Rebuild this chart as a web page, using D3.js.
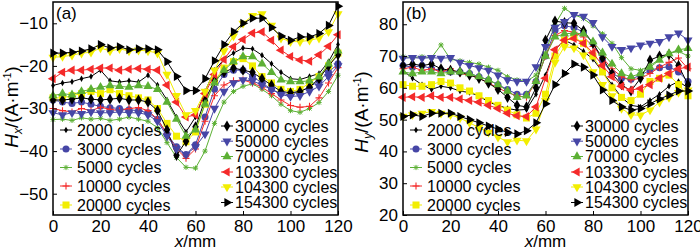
<!DOCTYPE html>
<html>
<head>
<meta charset="utf-8">
<script src="https://cdn.jsdelivr.net/npm/d3@7"></script>
<style>
  body { margin: 0; background: #fff; }
  svg { display: block; font-family: Arial, "Liberation Sans", sans-serif; }
</style>
</head>
<body>
<div id="chart"></div>
<script>
// Positions along the specimen (mm)
const xmm = [0, 4, 8, 12, 16, 20, 24, 28, 32, 36, 40, 44, 48, 52, 56, 60, 64, 68, 72, 76, 80, 84, 88, 92, 96, 100, 104, 108, 112, 116, 120];

const cycles = ["2000", "3000", "5000", "10000", "20000", "30000", "50000", "70000", "103300", "104300", "154300"];

// (a) Hx, A/m
const aH2000   = [-24.6,-24,-23.7,-23,-22.5,-21,-23.5,-23.8,-23.5,-23.8,-22.2,-24.5,-28,-32,-35.5,-32,-26,-21,-18.5,-17,-15.8,-16,-17.5,-19.5,-21.5,-23,-23.2,-22.5,-21.8,-19,-15];
const aH3000   = [-28,-28.5,-28.8,-28.5,-29,-29.5,-29.8,-30,-30.3,-30.5,-31,-32.5,-36,-39,-40.8,-38.5,-32,-25.5,-22,-21,-21,-22.5,-24,-25.5,-26.5,-26.7,-26,-25,-23.5,-21.5,-19.5];
const aH5000   = [-32.6,-32.5,-32.8,-32.2,-32.5,-32.3,-32.8,-32.5,-32,-32.5,-33,-34.5,-38,-41.5,-43.8,-44,-40,-33.5,-28.5,-26,-24.8,-24.2,-25.5,-27,-29,-30.5,-30.9,-30,-28.6,-26,-22.2];
const aH10000  = [-30,-30.5,-30.8,-30,-30.5,-29.7,-30.2,-30.5,-30,-29.8,-30.5,-32.5,-36,-39.5,-41.7,-39.5,-33,-27,-24.5,-23.5,-23.3,-24,-25,-26.5,-28,-29.3,-29.7,-29.5,-27.5,-24,-20.4];
const aH20000  = [-27.5,-27.5,-27,-26.5,-26,-26.5,-25.6,-26.5,-27,-27.5,-28,-30,-33.5,-36.5,-37.8,-35.5,-29,-23.5,-20.5,-19,-18.3,-20,-22.5,-24,-25.5,-26,-25.5,-24,-22.5,-20,-17];
const aH30000  = [-28,-28,-27.8,-27.5,-27.8,-28,-27.8,-27.6,-28,-28,-28.5,-30.5,-35,-41,-37.7,-34.3,-28,-23.5,-21.5,-20.5,-21,-21.5,-23,-24.5,-26,-26.3,-26,-25,-23,-20,-17.4];
const aH50000  = [-31,-31.5,-31,-31.2,-30.8,-31,-31,-30.8,-31,-31,-31.5,-33,-36.5,-39.5,-40.8,-39,-36,-30,-26,-24,-23.3,-23.5,-24.5,-25.5,-26.7,-27.2,-27,-26,-24.8,-22.5,-20];
const aH70000  = [-27,-26.5,-26.8,-26,-25.5,-25,-24.6,-24.8,-25,-24.6,-24.8,-25.5,-28.5,-32.5,-36.5,-35,-29,-24,-21,-19,-17.8,-17.8,-19.5,-21.5,-23.3,-23.7,-23.7,-23.5,-22.6,-19.5,-16.5];
const aH103300 = [-23,-21.5,-21,-21,-20.8,-20.5,-20.5,-21,-20.8,-20.6,-20.8,-21,-24.5,-28.5,-32,-31.5,-26.5,-22,-18.5,-15.5,-13.8,-12.3,-12,-14,-16.3,-17.8,-18.6,-18.9,-17.4,-15.4,-12.7];
const aH104300 = [-18,-17.8,-17.5,-17,-16.8,-15.8,-16.5,-16,-16.5,-16.3,-16.5,-17,-22,-27,-31.5,-30.5,-26,-21,-16.5,-13,-10,-8.2,-7.8,-10.5,-13.5,-14.3,-14.3,-14,-13.5,-12,-7.8];
const aH154300 = [-17,-17,-16.8,-16.5,-16,-15,-15.8,-15.5,-16.2,-16,-16,-16.2,-19,-22.5,-25.8,-25.8,-23,-18.8,-15,-12,-10,-8.8,-8.8,-11,-13,-14,-13.2,-13.2,-12.4,-10.5,-6];

// (b) Hy, A/m
const bH2000   = [65.5,63,61,59.5,60.5,60,59,58.5,57.5,55.5,54.5,53.5,53,53.2,58,64,72,75,73.5,71.5,69,65,61,57,54.5,54,56,58,60.5,62,60];
const bH3000   = [67,66.5,67,66,65.5,65,65,64.5,63.5,62.5,61,59.5,58,58,62,70,78,79.5,79,77.5,74,68.5,64.5,63,62.7,64,65.5,66.3,66.6,65,62];
const bH5000   = [69.8,69.5,69.8,69.5,73.5,69,68.5,68,67.5,66.5,65.5,63.5,62.5,62,64,71,80,85,83,81.8,79.5,77,74,69.5,66,65.5,67,69,70.8,71.5,70];
const bH10000  = [66,66.5,65.5,66,65,66,64.5,64,63,61.5,60,58.5,57.5,57,62,70,76.5,78,77.5,76,73,69.5,66,63.5,62.5,63,64.5,66.5,68,69.4,66];
const bH20000  = [61,60.5,60.5,61,62,61.5,60,59,57.5,56,54.5,53,51.5,50.5,52,58,70,75,76,74,70,65,60,57,56,58,62,63,64,61,57.5];
const bH30000  = [67,67.5,67,67.5,66,65.5,65,64,63,61.5,59.5,57,54.5,54,60,75,81,80.5,80.3,78,74,69.3,64.5,61,59,63,68.7,70,70.5,67,61];
const bH50000  = [69.3,69.5,69.3,69.5,69.3,69.5,68,67,66.3,65.5,64,62.5,62,62,66.6,73,79,80.8,83,82.5,80.5,76,73,72,72.5,73.4,74,74.5,76,77.2,75];
const bH70000  = [65,64.5,65,65,64.5,65,65,64.5,63.5,62.5,61,59,57,57.5,62,70,76,77,77.2,77,74.5,71,67.5,64.5,63.5,64.5,66.5,68.7,70.8,72,72.4];
const bH103300 = [57,57.2,57,57.5,57,57,56.5,56,55.5,54.5,53.5,52,51.2,51,54,63,72,75,75.5,74,71,67,63.5,60.5,59.3,59.8,61,63,64.5,66,66.5];
const bH104300 = [51,51.5,52,52.5,52,51.5,50.5,49,47.5,46,44.5,43,43.5,43.3,47,56,68,73,72.5,70.3,65,61,57.5,53.5,51.5,51.4,53,55.5,57,58.5,59.3];
const bH154300 = [51,51.5,51,52,52,52,51,50,49,48,47,46,45.5,46.5,49,55,61,64.5,67.5,66.5,64,59.3,56,54,53,53.5,55,56.5,57.7,59,59];

const aSeries = [aH2000, aH3000, aH5000, aH10000, aH20000, aH30000, aH50000, aH70000, aH103300, aH104300, aH154300];
const bSeries = [bH2000, bH3000, bH5000, bH10000, bH20000, bH30000, bH50000, bH70000, bH103300, bH104300, bH154300];

const xTicks = [0, 20, 40, 60, 80, 100, 120];
const aTicks = [-50, -40, -30, -20, -10];
const bTicks = [20, 30, 40, 50, 60, 70, 80];

// marker style per series, same order as cycles
const black = "#000", blue = "#4646a6", green = "#5cb034", red = "#f42a2a", yellow = "#f2ee00";
const styles = [
  { color: black,  shape: "smalldiamond" },
  { color: blue,   shape: "circle" },
  { color: green,  shape: "star" },
  { color: red,    shape: "plus" },
  { color: yellow, shape: "square" },
  { color: black,  shape: "diamond" },
  { color: blue,   shape: "down" },
  { color: green,  shape: "up" },
  { color: red,    shape: "left" },
  { color: yellow, shape: "down" },
  { color: black,  shape: "right" }
];

const W = 700, H = 248;
const svg = d3.select("#chart").append("svg")
  .attr("width", W).attr("height", H);
svg.append("rect").attr("width", W).attr("height", H).attr("fill", "#fff");

function marker(sel, st, x, y) {
  const tri = d3.symbol().type(d3.symbolTriangle).size(36)();
  const g = sel.append("g").attr("transform", `translate(${x},${y})`);
  switch (st.shape) {
    case "circle":
      g.append("circle").attr("r", 3.5).attr("fill", st.color); break;
    case "square":
      g.append("rect").attr("x", -3.5).attr("y", -3.5).attr("width", 7).attr("height", 7).attr("fill", st.color); break;
    case "diamond":
      g.append("path").attr("d", d3.symbol().type(d3.symbolDiamond).size(36)()).attr("fill", st.color); break;
    case "smalldiamond":
      g.append("path").attr("d", d3.symbol().type(d3.symbolDiamond).size(12)()).attr("fill", st.color); break;
    case "plus":
      g.append("path").attr("d", "M-3.5,0H3.5M0,-3.5V3.5").attr("stroke", st.color).attr("stroke-width", 1.1); break;
    case "star":
      g.append("path").attr("d", "M-2.6,0H2.6M0,-2.6V2.6M-2,-2L2,2M-2,2L2,-2").attr("stroke", st.color).attr("stroke-width", 1); break;
    case "up":
      g.append("path").attr("d", tri).attr("fill", st.color); break;
    case "down":
      g.append("path").attr("d", tri).attr("transform", "rotate(180)").attr("fill", st.color); break;
    case "left":
      g.append("path").attr("d", tri).attr("transform", "rotate(-90)").attr("fill", st.color); break;
    case "right":
      g.append("path").attr("d", tri).attr("transform", "rotate(90)").attr("fill", st.color); break;
  }
}

function panel(left, yDomain, yTicks, series, tag, sub, labelY) {
  const x = d3.scaleLinear().domain([0, 120]).range([left, left + 285]);
  const y = d3.scaleLinear().domain(yDomain).range([215, 2]);

  const plot = svg.append("g");
  const line = d3.line().x((d, i) => x(xmm[i])).y(d => y(d));

  series.forEach((vals, k) => {
    const st = styles[k];
    plot.append("path").datum(vals)
      .attr("d", line)
      .attr("fill", "none")
      .attr("stroke", st.color)
      .attr("stroke-width", 1);
    vals.forEach((v, i) => marker(plot, st, x(xmm[i]), y(v)));
  });

  // axes with inward ticks
  const xa = svg.append("g").attr("transform", "translate(0,215)")
    .call(d3.axisBottom(x).tickValues(xTicks).tickSizeInner(-4).tickSizeOuter(0).tickPadding(6));
  const ya = svg.append("g").attr("transform", `translate(${left},0)`)
    .call(d3.axisLeft(y).tickValues(yTicks).tickSizeInner(-4).tickSizeOuter(0).tickPadding(5));
  [xa, ya].forEach(a => {
    a.select(".domain").remove();
    a.selectAll("line").attr("stroke", "#000").attr("stroke-width", 1);
    a.selectAll("text").attr("font-size", 17).attr("fill", "#000").attr("font-family", "Arial, 'Liberation Sans', sans-serif");
  });
  xa.selectAll("text").attr("dy", "0.71em").attr("y", 5);

  // frame
  svg.append("rect")
    .attr("x", left).attr("y", 2).attr("width", 285).attr("height", 213)
    .attr("fill", "none").attr("stroke", "#000").attr("stroke-width", 1.5);

  // panel tag
  svg.append("text").attr("x", left + 3).attr("y", 19)
    .attr("font-size", 17).text(tag);

  // axis titles
  const xt = svg.append("text").attr("x", left + 142.5).attr("y", 246.5)
    .attr("text-anchor", "middle").attr("font-size", 17);
  xt.append("tspan").attr("font-style", "italic").text("x");
  xt.append("tspan").text("/mm");

  const yt = svg.append("text")
    .attr("transform", `translate(${left - 35},${labelY}) rotate(-90)`)
    .attr("text-anchor", "middle").attr("font-size", 19);
  yt.append("tspan").attr("font-style", "italic").text("H");
  yt.append("tspan").attr("font-style", "italic").attr("font-size", 12).attr("dy", 4).text(sub);
  yt.append("tspan").attr("dy", -4).text("/(A·m");
  yt.append("tspan").attr("font-size", 10).attr("dy", -7).text("-1");
  yt.append("tspan").attr("dy", 7).text(")");

  // legends (two columns)
  const cols = [
    { idx: [0, 1, 2, 3, 4], lx: left + 7, tx: 17, ys: [130, 149, 167.5, 186, 205] },
    { idx: [5, 6, 7, 8, 9, 10], lx: left + 168, tx: 14, ys: [126, 141.2, 156.5, 172, 187, 202.5] }
  ];
  cols.forEach(c => {
    c.idx.forEach((k, j) => {
      const st = styles[k];
      const ly = c.ys[j];
      svg.append("line").attr("x1", c.lx).attr("x2", c.lx + 12).attr("y1", ly).attr("y2", ly)
        .attr("stroke", st.color).attr("stroke-width", 1);
      marker(svg, st, c.lx + 6, ly);
      svg.append("text").attr("x", c.lx + c.tx).attr("y", ly).attr("dy", "0.36em")
        .attr("font-size", 16).text(cycles[k] + " cycles");
    });
  });
}

panel(53, [-55, -5], aTicks, aSeries, "(a)", "x", 107);
panel(403, [20, 87], bTicks, bSeries, "(b)", "y", 112);
</script>
</body>
</html>
